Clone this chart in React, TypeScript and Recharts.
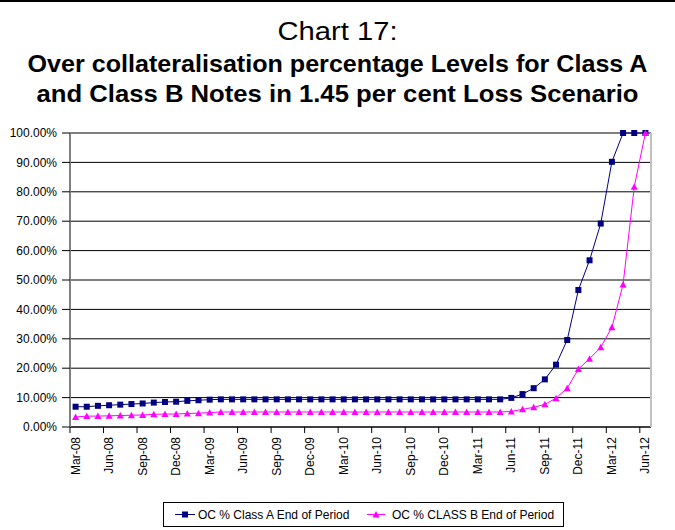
import React from 'react';
import { LineChart, Line, XAxis, YAxis, CartesianGrid, ReferenceLine } from 'recharts';

const months = [
  'Mar-08', 'Apr-08', 'May-08', 'Jun-08', 'Jul-08', 'Aug-08', 'Sep-08', 'Oct-08', 'Nov-08', 'Dec-08',
  'Jan-09', 'Feb-09', 'Mar-09', 'Apr-09', 'May-09', 'Jun-09', 'Jul-09', 'Aug-09', 'Sep-09', 'Oct-09', 'Nov-09', 'Dec-09',
  'Jan-10', 'Feb-10', 'Mar-10', 'Apr-10', 'May-10', 'Jun-10', 'Jul-10', 'Aug-10', 'Sep-10', 'Oct-10', 'Nov-10', 'Dec-10',
  'Jan-11', 'Feb-11', 'Mar-11', 'Apr-11', 'May-11', 'Jun-11', 'Jul-11', 'Aug-11', 'Sep-11', 'Oct-11', 'Nov-11', 'Dec-11',
  'Jan-12', 'Feb-12', 'Mar-12', 'Apr-12', 'May-12', 'Jun-12',
];

// OC % Class A End of Period
const classA = [
  6.9, 6.9, 7.2, 7.4, 7.6, 7.8, 8.0, 8.3, 8.5, 8.6, 8.9, 9.1, 9.3,
  9.4, 9.4, 9.4, 9.4, 9.4, 9.4, 9.4, 9.4, 9.4, 9.4, 9.4, 9.4, 9.4,
  9.4, 9.4, 9.4, 9.4, 9.4, 9.4, 9.4, 9.4, 9.4, 9.4, 9.4, 9.4, 9.4,
  9.9, 11.2, 13.2, 16.2, 21.2, 29.6, 46.6, 56.7, 69.2, 90.2, 100, 100, 100,
];

// OC % CLASS B End of Period
const classB = [
  3.4, 3.7, 3.7, 3.8, 3.9, 4.0, 4.1, 4.3, 4.4, 4.4, 4.6, 4.7, 4.9,
  5.1, 5.1, 5.1, 5.1, 5.1, 5.1, 5.1, 5.1, 5.1, 5.1, 5.1, 5.1, 5.1,
  5.1, 5.1, 5.1, 5.1, 5.1, 5.1, 5.1, 5.1, 5.1, 5.1, 5.1, 5.1, 5.1,
  5.3, 6.0, 6.7, 7.7, 9.8, 13.2, 19.7, 23.2, 27.1, 33.9, 48.5, 81.7, 100,
];

const yTicks = [0, 10, 20, 30, 40, 50, 60, 70, 80, 90, 100];

const data = months.map((m, i) => ({ month: m, a: classA[i], b: classB[i] }));

const font = '"Liberation Sans", Arial, sans-serif';
const narrow = '"Liberation Sans Narrow", "Arial Narrow", "Liberation Sans", sans-serif';
const BLUE = '#000080';
const PINK = '#FF00FF';
const plotW = 581;
const halfBand = plotW / months.length / 2;

const SquareDot = (props: any) => {
  const { cx, cy } = props;
  if (cx == null || cy == null) return null;
  return <rect key={props.key} x={cx - 3} y={cy - 3} width={6} height={6} fill={BLUE} />;
};

const TriDot = (props: any) => {
  const { cx, cy } = props;
  if (cx == null || cy == null) return null;
  return (
    <polygon
      key={props.key}
      points={`${cx},${cy - 3.5} ${cx + 3.5},${cy + 3} ${cx - 3.5},${cy + 3}`}
      fill={PINK}
    />
  );
};

const XTick = (props: any) => {
  const { x, y, payload } = props;
  return (
    <g transform={`translate(${x},${y})`}>
      <line x1={-halfBand} x2={-halfBand} y1={-10} y2={-4} stroke="#000" />
      <text transform="rotate(-90)" textAnchor="end" dy={4} fontSize={12} fontFamily={font} fill="#000">
        {payload.value}
      </text>
    </g>
  );
};

export default function App() {
  return (
    <div style={{ position: 'absolute', left: 0, top: 0, width: 675, height: 530, background: '#fff', overflow: 'hidden', borderTop: '2px solid #000', boxSizing: 'border-box' }}>
      <div style={{ position: 'absolute', left: 0, top: -2 }}>
        <LineChart width={675} height={530} data={data} margin={{ top: 133, right: 23, bottom: 43, left: 0 }}>
          <CartesianGrid vertical={false} stroke="#000" />
          <ReferenceLine y={100} stroke="#808080" strokeWidth={1.5} />
          <XAxis
            dataKey="month"
            interval={2}
            padding={{ left: halfBand, right: halfBand }}
            tickLine={false}
            axisLine={{ stroke: '#000' }}
            tickSize={6}
            tickMargin={4}
            height={60}
            tick={<XTick />}
          />
          <YAxis
            domain={[0, 100]}
            ticks={yTicks}
            interval={0}
            width={70}
            tickFormatter={(v: number) => `${v.toFixed(2)}%`}
            axisLine={{ stroke: '#808080', strokeWidth: 2 }}
            tickLine={{ stroke: '#000' }}
            tickSize={8}
            tickMargin={5}
            tick={{ fill: '#000', fontSize: 12, fontFamily: font }}
          />
          <YAxis
            yAxisId="r"
            orientation="right"
            domain={[0, 100]}
            width={1}
            tick={false}
            tickLine={false}
            axisLine={{ stroke: '#c0c0c0', strokeWidth: 2 }}
          />
          <Line dataKey="a" stroke={BLUE} strokeWidth={1} dot={SquareDot} activeDot={false} isAnimationActive={false} />
          <Line dataKey="b" stroke={PINK} strokeWidth={1} dot={TriDot} activeDot={false} isAnimationActive={false} />
        </LineChart>
      </div>
      <svg width={675} height={130} style={{ position: 'absolute', left: 0, top: -2, pointerEvents: 'none' }}>
        <text x={337.5} y={40} textAnchor="middle" fontSize={25} fontFamily={narrow} fill="#000" textLength={120} lengthAdjust="spacingAndGlyphs">
          Chart 17:
        </text>
        <text x={337.5} y={72} textAnchor="middle" fontSize={24} fontWeight="bold" fontFamily={narrow} fill="#000" textLength={620} lengthAdjust="spacingAndGlyphs">
          Over collateralisation percentage Levels for Class A
        </text>
        <text x={337.5} y={102} textAnchor="middle" fontSize={24} fontWeight="bold" fontFamily={narrow} fill="#000" textLength={602} lengthAdjust="spacingAndGlyphs">
          and Class B Notes in 1.45 per cent Loss Scenario
        </text>
      </svg>
      <div style={{ position: 'absolute', left: 163, top: 500, width: 401, height: 25, border: '1px solid #000', boxSizing: 'border-box' }}>
        <svg width={399} height={23}>
          <line x1={11} x2={31} y1={11.5} y2={11.5} stroke={BLUE} />
          <rect x={18} y={8.5} width={6} height={6} fill={BLUE} />
          <text x={34} y={16} fontSize={12} fontFamily={font} fill="#000">OC % Class A End of Period</text>
          <line x1={203} x2={221} y1={11.5} y2={11.5} stroke={PINK} />
          <polygon points="212,8 215.5,14.5 208.5,14.5" fill={PINK} />
          <text x={228} y={16} fontSize={12} fontFamily={font} fill="#000">OC % CLASS B End of Period</text>
        </svg>
      </div>
    </div>
  );
}
